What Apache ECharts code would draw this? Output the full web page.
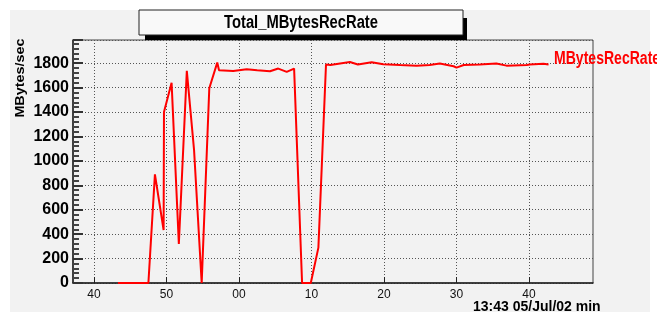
<!DOCTYPE html>
<html>
<head>
<meta charset="utf-8">
<script src="https://cdn.jsdelivr.net/npm/echarts@6/dist/echarts.min.js"></script>
<style>
  html, body { margin: 0; padding: 0; background: #fff; }
  #main { width: 657px; height: 312px; }
</style>
</head>
<body>
<div id="main"></div>
<script>
// minutes after 13:00 (60 = 14:00)
var minutes = [43.3, 47.5, 48.4, 49.6, 49.65, 50.7, 51.7, 52.8, 53.8, 54.85, 55.9, 57.0, 57.24,
  59.2, 61.06, 62.5, 64.28, 65.42, 66.58, 67.6, 68.7, 69.9, 70.95, 72.0, 72.6, 75.3, 76.4,
  78.3, 79.9, 82.2, 84.5, 86.3, 87.7, 89.6, 90.0, 91.0, 93.2, 95.5, 96.9, 99.7, 100.1, 102.0, 102.7];
var rate = [0, 0, 890, 434, 1400, 1640, 320, 1737, 1088, 0, 1595, 1805, 1742,
  1736, 1750, 1742, 1734, 1756, 1729, 1756, 0, 0, 290, 1790, 1786, 1810, 1789,
  1808, 1791, 1785, 1780, 1785, 1797, 1775, 1764, 1785, 1790, 1797, 1780, 1785, 1789, 1795, 1789];
var xTicks = [40, 50, 60, 70, 80, 90, 100];

var font = 'Liberation Sans, Arial, Helvetica, sans-serif';
var chart = echarts.init(document.getElementById('main'), null, { renderer: 'canvas' });

var option = {
  backgroundColor: '#ffffff',
  animation: false,
  grid: {
    left: 73, right: 64, top: 40, bottom: 29,
    show: true, borderColor: '#444', borderWidth: 1, backgroundColor: 'transparent'
  },
  xAxis: {
    type: 'value',
    min: 37.1,
    max: 108.83,
    axisLine: { show: true, onZero: false, lineStyle: { color: '#222', width: 1.5 } },
    axisTick: { inside: true, length: 6, customValues: xTicks, lineStyle: { color: '#222' } },
    axisLabel: {
      customValues: xTicks, margin: 6, fontFamily: font, fontSize: 12, color: '#111',
      formatter: function (v) { return String(v % 60).padStart(2, '0'); }
    },
    splitLine: { show: true, lineStyle: { color: '#555', type: [1, 2], width: 1 } }
  },
  yAxis: {
    type: 'value',
    min: 0,
    max: 1990,
    interval: 200,
    axisLine: { show: true, lineStyle: { color: '#222', width: 1.5 } },
    axisTick: { inside: true, length: 10, lineStyle: { color: '#333', width: 2 } },
    minorTick: { show: true, splitNumber: 5, length: 6, lineStyle: { color: '#444', width: 2 } },
    axisLabel: {
      margin: 4, fontFamily: font, fontSize: 16, fontWeight: 'bold', color: '#000',
      showMaxLabel: false,
      formatter: function (v) { return String(v); }
    },
    splitLine: { show: true, lineStyle: { color: '#555', type: [1, 2], width: 1 } }
  },
  graphic: [
    { type: 'rect', z: -100, silent: true, shape: { x: 10, y: 10, width: 640, height: 302 },
      style: { fill: '#f2f2f2' } },
    { type: 'rect', z: 100, shape: { x: 145, y: 18, width: 322, height: 22 },
      style: { fill: '#000' } },
    { type: 'rect', z: 101, shape: { x: 139, y: 10, width: 324, height: 25 },
      style: { fill: '#f9f9f9', stroke: '#222', lineWidth: 1 } },
    { type: 'text', z: 102, x: 301, y: 23, scaleX: 0.82,
      style: { text: 'Total_MBytesRecRate', font: 'bold 18px ' + font, fill: '#000',
        textAlign: 'center', textVerticalAlign: 'middle' } },
    { type: 'text', z: 102, x: 554, y: 59, scaleX: 0.78,
      style: { text: 'MBytesRecRate', font: 'bold 18px ' + font, fill: '#ff0000',
        textAlign: 'left', textVerticalAlign: 'middle' } },
    { type: 'text', z: 102, x: 21, y: 78, rotation: Math.PI / 2, scaleX: 1.2,
      style: { text: 'MBytes/sec', font: 'bold 12px ' + font, fill: '#000',
        textAlign: 'center', textVerticalAlign: 'middle' } },
    { type: 'text', z: 102, x: 473, y: 307,
      style: { text: '13:43 05/Jul/02 min', font: 'bold 14px ' + font, fill: '#000',
        textAlign: 'left', textVerticalAlign: 'middle' } }
  ],
  series: [{
    type: 'line',
    name: 'MBytesRecRate',
    showSymbol: false,
    data: minutes.map(function (m, i) { return [m, rate[i]]; }),
    lineStyle: { color: '#ff0000', width: 2 },
    itemStyle: { color: '#ff0000' },
    z: 5
  }]
};

chart.setOption(option);
</script>
</body>
</html>
